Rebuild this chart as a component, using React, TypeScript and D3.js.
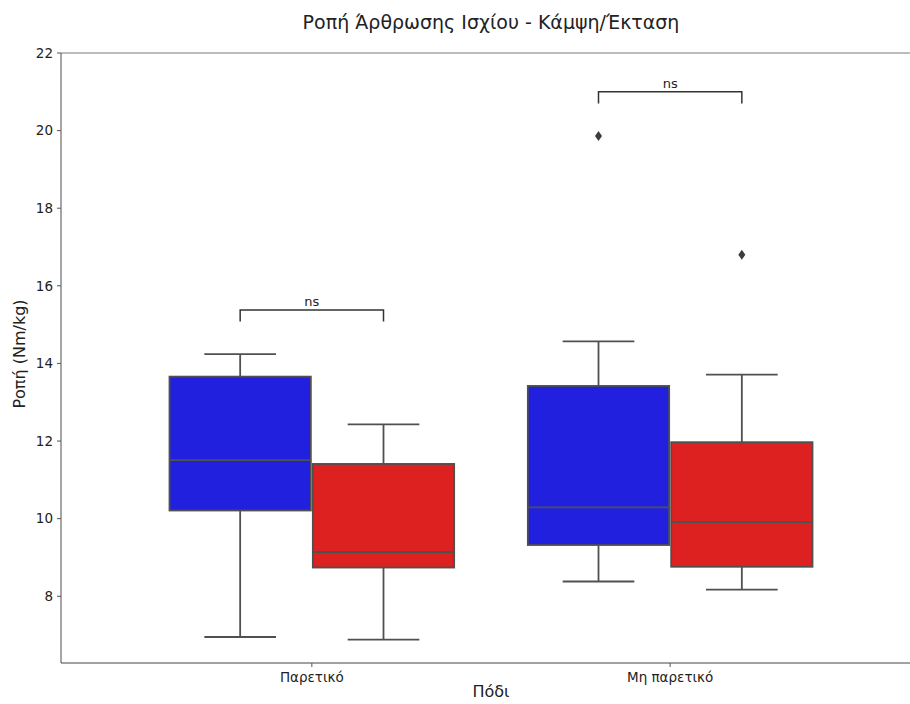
import React, { useEffect, useRef } from 'react'
import * as d3 from 'd3'

// box summary stats
const legs = ['Παρετικό', 'Μη παρετικό']
const sides = ['blue', 'red']
const q1 = [[10.21, 8.74], [9.32, 8.76]]
const medians = [[11.51, 9.14], [10.29, 9.91]]
const q3 = [[13.66, 11.41], [13.42, 11.97]]
const whiskLo = [[6.95, 6.88], [8.38, 8.17]]
const whiskHi = [[14.24, 12.43], [14.57, 13.71]]
const outliers = [[[], []], [[19.86], [16.8]]]
const bracketY = [15.38, 21.0]
const yTicks = [8, 10, 12, 14, 16, 18, 20, 22]
const boxColors = ['#2020de', '#dd2020']

const W = 910
const H = 704
const LINE = '#505050'

export default function App () {
  const ref = useRef<SVGSVGElement>(null)

  useEffect(() => {
    const svg = d3.select(ref.current)
    svg.selectAll('*').remove()

    const left = 61
    const top = 53
    const bottom = 663
    const right = 921

    const x = d3.scaleLinear().domain([-0.7, 1.7]).range([left, right])
    const y = d3.scaleLinear().domain([6.28, 22]).range([bottom, top])
    const boxW = x(0.4) - x(0)
    const font = "'DejaVu Sans', sans-serif"

    const g = svg.append('g').style('font-family', font)

    // spines
    g.append('line').attr('x1', left).attr('x2', right).attr('y1', top).attr('y2', top)
      .attr('stroke', '#7a7a7a').attr('stroke-width', 1.2)
    g.append('line').attr('x1', left).attr('x2', left).attr('y1', top).attr('y2', bottom)
      .attr('stroke', '#6a6a6a').attr('stroke-width', 1.2)
    g.append('line').attr('x1', left).attr('x2', right).attr('y1', bottom).attr('y2', bottom)
      .attr('stroke', '#444').attr('stroke-width', 1.2)

    // y ticks
    yTicks.forEach(t => {
      g.append('line').attr('x1', left - 4).attr('x2', left).attr('y1', y(t)).attr('y2', y(t))
        .attr('stroke', '#555')
      g.append('text').attr('x', left - 8).attr('y', y(t)).attr('dy', '0.35em')
        .attr('text-anchor', 'end').style('font-size', '13.5px').attr('fill', '#222').text(t)
    })

    // x ticks
    legs.forEach((name, i) => {
      g.append('line').attr('x1', x(i)).attr('x2', x(i)).attr('y1', bottom).attr('y2', bottom + 4)
        .attr('stroke', '#555')
      g.append('text').attr('x', x(i)).attr('y', bottom + 19)
        .attr('text-anchor', 'middle').style('font-size', '13.5px').attr('fill', '#222').text(name)
    })

    g.append('text').attr('x', x(0.5)).attr('y', 697).attr('text-anchor', 'middle')
      .style('font-size', '16px').attr('fill', '#222').text('Πόδι')
    g.append('text').attr('transform', `translate(25, 354) rotate(-90)`)
      .attr('text-anchor', 'middle').style('font-size', '16px').attr('fill', '#222').text('Ροπή (Nm/kg)')
    g.append('text').attr('x', 491).attr('y', 29).attr('text-anchor', 'middle')
      .style('font-size', '19px').attr('fill', '#222').text('Ροπή Άρθρωσης Ισχίου - Κάμψη/Έκταση')

    // boxes
    legs.forEach((_, i) => {
      sides.forEach((__, j) => {
        const cx = x(i - 0.2 + j * 0.4)
        const x0 = cx - boxW / 2 + 1
        const w = boxW - 2
        const capHalf = boxW / 4
        // whiskers
        g.append('line').attr('x1', cx).attr('x2', cx).attr('y1', y(q3[i][j])).attr('y2', y(whiskHi[i][j]))
          .attr('stroke', LINE).attr('stroke-width', 1.8)
        g.append('line').attr('x1', cx).attr('x2', cx).attr('y1', y(q1[i][j])).attr('y2', y(whiskLo[i][j]))
          .attr('stroke', LINE).attr('stroke-width', 1.8)
        g.append('line').attr('x1', cx - capHalf).attr('x2', cx + capHalf)
          .attr('y1', y(whiskHi[i][j])).attr('y2', y(whiskHi[i][j])).attr('stroke', LINE).attr('stroke-width', 1.8)
        g.append('line').attr('x1', cx - capHalf).attr('x2', cx + capHalf)
          .attr('y1', y(whiskLo[i][j])).attr('y2', y(whiskLo[i][j])).attr('stroke', LINE).attr('stroke-width', 1.8)
        g.append('rect').attr('x', x0).attr('y', y(q3[i][j])).attr('width', w)
          .attr('height', y(q1[i][j]) - y(q3[i][j]))
          .attr('fill', boxColors[j]).attr('stroke', LINE).attr('stroke-width', 1.8)
        g.append('line').attr('x1', x0).attr('x2', x0 + w).attr('y1', y(medians[i][j])).attr('y2', y(medians[i][j]))
          .attr('stroke', LINE).attr('stroke-width', 1.8)
        outliers[i][j].forEach(v => {
          g.append('path').attr('transform', `translate(${cx}, ${y(v)})`)
            .attr('d', 'M0,-5L3.5,0L0,5L-3.5,0Z').attr('fill', '#3d3d3d')
        })
      })
    })

    // significance brackets
    legs.forEach((_, i) => {
      const xa = x(i - 0.2)
      const xb = x(i + 0.2)
      const yb = y(bracketY[i])
      const leg = y(bracketY[i] - 0.3)
      g.append('path').attr('d', `M${xa},${leg}L${xa},${yb}L${xb},${yb}L${xb},${leg}`)
        .attr('fill', 'none').attr('stroke', '#333').attr('stroke-width', 1.5)
      g.append('text').attr('x', (xa + xb) / 2).attr('y', yb - 4).attr('text-anchor', 'middle')
        .style('font-size', '13px').attr('fill', '#222').text('ns')
    })
  }, [])

  return (
    <div>
      <style>{'body{margin:0}'}</style>
      <svg ref={ref} width={W} height={H} style={{ display: 'block', background: '#fff' }} />
    </div>
  )
}
